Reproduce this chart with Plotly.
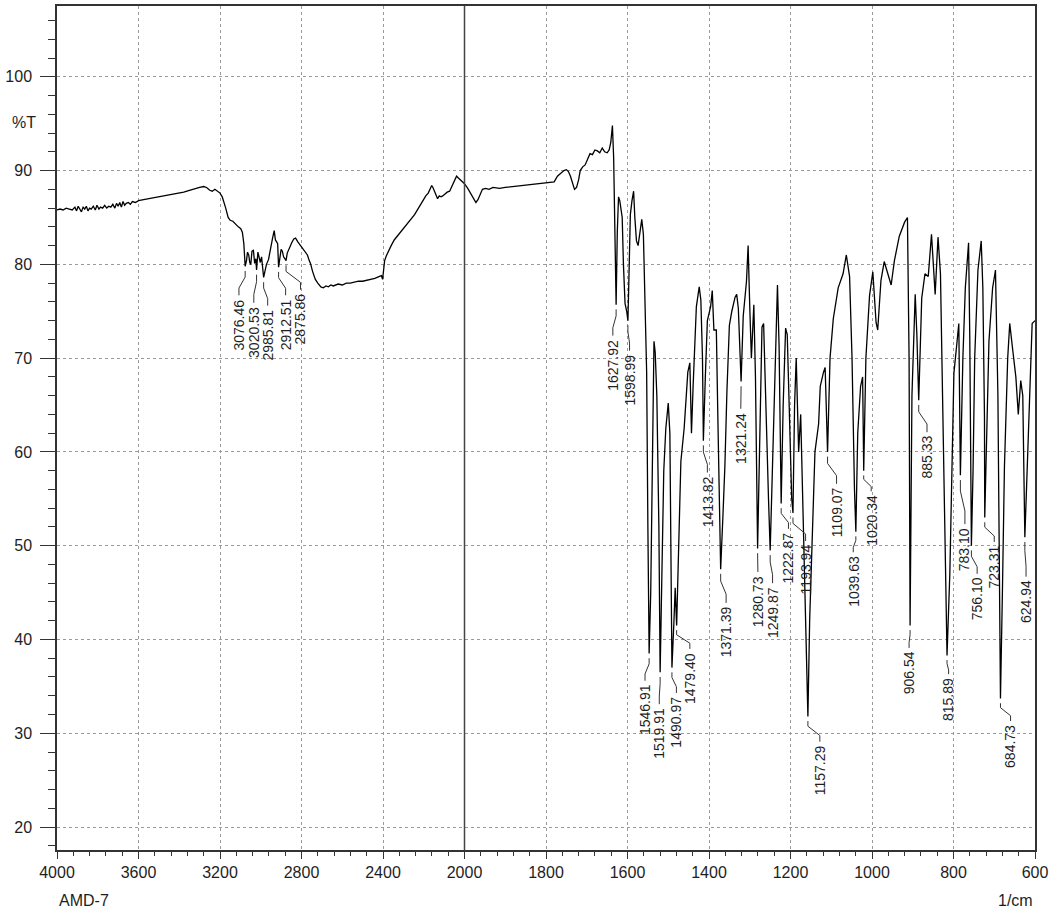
import numpy as np
import plotly.graph_objects as go

# IR spectrum of sample AMD-7: wavenumber (1/cm) and transmittance (%T)
wavenumber = [
    4000, 3985, 3970, 3955, 3940, 3925, 3912, 3904, 3896, 3888, 3880, 3872, 3864, 3856,
    3848, 3840, 3832, 3822, 3812, 3804, 3794, 3786, 3776, 3766, 3756, 3746, 3736, 3726,
    3716, 3708, 3700, 3692, 3684, 3676, 3668, 3660, 3650, 3640, 3630, 3615, 3600, 3575,
    3550, 3526, 3500, 3477, 3450, 3427, 3400, 3378, 3350, 3328, 3300, 3280, 3266, 3250,
    3238, 3225, 3213, 3200, 3189, 3180, 3172, 3160, 3150, 3137, 3125, 3110, 3098, 3090,
    3083, 3079, 3076.46, 3070, 3065, 3059, 3054, 3049, 3043, 3036, 3030, 3024, 3020.53,
    3014, 3008, 3002, 2996, 2991, 2985.81, 2980, 2972, 2962, 2952, 2942, 2934, 2928,
    2922, 2917, 2912.51, 2906, 2900, 2894, 2888, 2882, 2875.86, 2870, 2862, 2856, 2848,
    2838, 2829, 2818, 2805, 2792, 2780, 2771, 2762, 2756, 2745, 2732, 2720, 2705, 2693,
    2680, 2668, 2656, 2644, 2620, 2600, 2580, 2561, 2540, 2520, 2500, 2478, 2460, 2440,
    2420, 2408, 2402, 2398, 2392, 2384, 2376, 2360, 2345, 2330, 2317, 2300, 2280, 2260,
    2245, 2234, 2220, 2205, 2190, 2178, 2168, 2161, 2155, 2148, 2140, 2132, 2124, 2115,
    2107, 2095, 2085, 2073, 2062, 2055, 2046, 2039, 2030, 2020, 2010, 2000, 1992, 1985,
    1978, 1972, 1967, 1962, 1956, 1948, 1940, 1930, 1914, 1900, 1880, 1865, 1850, 1830,
    1810, 1790, 1780, 1772, 1764, 1756, 1750, 1745, 1740, 1735, 1730, 1725, 1720, 1716,
    1710, 1704, 1698, 1692, 1686, 1680, 1674, 1668, 1662, 1656, 1650, 1645, 1641, 1637,
    1634, 1631, 1627.92, 1625, 1622, 1619, 1616, 1613, 1610, 1606, 1602, 1598.99, 1596,
    1593, 1589, 1585, 1582, 1578, 1574, 1570, 1565, 1561, 1557, 1553, 1550, 1546.91,
    1543, 1539, 1535, 1532, 1528, 1523, 1519.91, 1516, 1511, 1506, 1500, 1496, 1493,
    1490.97, 1486, 1483, 1479.40, 1474, 1469, 1461, 1452, 1447, 1443, 1439, 1431, 1424,
    1420, 1416, 1413.82, 1409, 1404, 1396, 1392, 1388, 1382, 1378, 1374, 1371.39, 1366,
    1361, 1356, 1350, 1344, 1336, 1332, 1328, 1321.24, 1316, 1308, 1304, 1300, 1296,
    1290, 1286, 1280.73, 1274, 1270, 1266, 1260, 1254, 1249.87, 1244, 1238, 1232, 1228,
    1222.87, 1218, 1212, 1208, 1202, 1197, 1193.94, 1190, 1186, 1180, 1175, 1168, 1162,
    1157.29, 1153, 1148, 1144, 1140, 1131, 1127, 1119, 1115, 1109.07, 1103, 1095, 1083,
    1071, 1063, 1055, 1049, 1043, 1039.63, 1035, 1028, 1023, 1020.34, 1015, 1006, 998,
    990, 986, 978, 970, 962, 953, 945, 933, 920, 913, 909, 906.54, 902, 894, 890,
    885.33, 878, 870, 862, 854, 845, 838, 832, 825, 819, 815.89, 809, 802, 799, 793,
    787, 783.10, 777, 771, 763, 760, 756.10, 752, 748, 740, 732, 728, 724, 723.31, 717,
    713, 704, 697, 691, 687, 684.73, 680, 675, 667, 662, 655, 647, 641, 635, 630,
    624.94, 619, 613, 607, 600,
]
transmittance = [
    85.8, 85.9, 85.8, 86.0, 85.9, 85.8, 86.1, 85.7, 86.2, 85.8, 85.6, 86.1, 85.9, 86.2,
    85.7, 86.0, 85.9, 86.2, 85.8, 86.3, 85.9, 86.1, 86.0, 86.3, 86.0, 86.2, 86.1, 86.4,
    86.0, 86.5, 86.2, 86.6, 86.1, 86.7, 86.3, 86.5, 86.6, 86.4, 86.7, 86.6, 86.8, 86.9,
    87.0, 87.1, 87.2, 87.3, 87.4, 87.5, 87.6, 87.7, 87.9, 88.0, 88.2, 88.3, 88.2, 87.9,
    87.8, 88.0, 87.8, 87.6, 87.2, 86.6, 86.0, 85.0, 84.7, 84.6, 84.3, 84.0, 83.8, 83.4,
    82.2, 81.0, 79.8, 80.4, 81.3, 81.0, 80.2, 80.0, 81.4, 81.5, 80.1, 80.6, 79.4,
    81.3, 80.6, 80.2, 80.8, 79.7, 78.6, 79.2, 80.0, 80.5, 81.8, 82.8, 83.6, 82.6,
    82.4, 82.2, 79.7, 80.8, 81.6, 81.4, 80.8, 80.6, 80.4, 81.2, 81.6, 82.0, 82.3,
    82.7, 82.8, 82.4, 82.0, 81.6, 81.3, 81.0, 80.4, 80.1, 79.2, 78.4, 78.0, 77.6, 77.5,
    77.7, 77.6, 77.8, 77.7, 77.9, 77.8, 78.0, 78.0, 78.1, 78.2, 78.2, 78.3, 78.4, 78.5,
    78.7, 78.8, 78.4, 79.6, 80.4, 80.9, 81.3, 82.0, 82.6, 83.0, 83.4, 83.8, 84.3, 84.9,
    85.3, 85.7, 86.2, 86.8, 87.3, 87.6, 88.0, 88.4, 88.2, 87.8, 87.3, 87.0, 87.3, 87.2,
    87.3, 87.5, 87.7, 87.8, 88.3, 88.8, 89.2, 89.4, 89.2, 89.0, 88.9, 88.6, 88.1, 87.6,
    87.0, 86.6, 86.9, 87.5, 88.0, 88.1, 88.0, 88.2, 88.1, 88.2, 88.3, 88.3, 88.4, 88.5,
    88.6, 88.7, 88.8, 89.4, 89.7, 90.0, 90.1, 89.9, 89.4, 88.7, 88.0, 88.2, 89.0, 90.0,
    90.4, 90.6, 91.2, 91.8, 91.7, 92.2, 92.1, 91.9, 92.4, 92.0, 91.9, 92.2, 93.0, 94.8,
    91.4, 82.0, 75.7, 83.5, 87.2, 86.8, 85.8, 85.0, 80.0, 75.8, 75.0, 74.0, 79.5,
    85.3, 86.8, 87.8, 85.0, 82.5, 82.0, 83.2, 84.8, 83.2, 76.5, 68.5, 52.0, 38.5,
    45.0, 60.0, 71.8, 70.6, 66.0, 52.0, 36.5, 46.0, 58.0, 62.5, 65.2, 62.0, 48.0,
    37.0, 42.0, 45.5, 41.5, 51.0, 59.0, 62.5, 68.5, 69.5, 62.0, 67.0, 75.5, 77.6,
    76.2, 70.0, 61.2, 68.0, 74.0, 75.5, 77.2, 73.0, 73.0, 63.0, 55.0, 47.5, 53.0,
    58.5, 66.5, 73.5, 75.0, 76.5, 76.8, 75.3, 67.5, 74.5, 78.2, 82.0, 75.5, 70.0,
    75.7, 68.0, 49.7, 63.0, 73.3, 73.7, 63.0, 55.0, 49.5, 59.0, 69.0, 77.8, 71.3,
    54.5, 65.0, 73.2, 72.5, 62.3, 55.0, 53.5, 65.0, 70.0, 60.0, 64.0, 52.0, 40.0,
    31.8, 42.0, 50.0, 55.0, 60.0, 63.0, 67.0, 68.5, 69.0, 60.0, 70.0, 74.2, 77.5,
    79.0, 81.0, 78.7, 70.0, 56.0, 51.5, 62.0, 67.0, 68.0, 58.0, 70.0, 76.7, 79.2,
    73.8, 73.0, 78.3, 80.3, 79.2, 77.8, 80.4, 83.0, 84.5, 85.0, 70.0, 41.5, 66.0, 76.8, 72.6,
    65.5, 76.4, 79.0, 78.7, 83.2, 76.8, 82.9, 79.0, 62.3, 45.0, 38.3, 47.0, 62.3, 68.4, 71.0,
    73.7, 57.5, 70.0, 77.5, 82.3, 72.0, 50.0, 58.0, 70.0, 79.4, 82.5, 77.5, 63.8, 53.0, 64.0,
    71.8, 77.5, 79.4, 66.0, 50.0, 33.7, 45.0, 58.4, 70.0, 73.7, 71.0, 68.0, 64.0, 67.6, 66.0,
    50.9, 58.4, 66.0, 73.7, 74.0,
]

# Picked peaks (1/cm)
peak_wavenumbers = [
    3076.46, 3020.53, 2985.81, 2912.51, 2875.86, 1627.92, 1598.99, 1546.91, 1519.91,
    1490.97, 1479.40, 1413.82, 1371.39, 1321.24, 1280.73, 1249.87, 1222.87, 1193.94,
    1157.29, 1109.07, 1039.63, 1020.34, 906.54, 885.33, 815.89, 783.10, 756.10, 723.31,
    684.73, 624.94,
]

# Where each peak label sits: text centre (1/cm) and text top (%T)
label_x = [
    3107, 3034, 2966, 2878, 2805, 1636, 1595, 1557, 1522,
    1480, 1447, 1404, 1358, 1322, 1280, 1244, 1205, 1163,
    1128, 1087, 1046, 1002, 909, 865, 812, 772, 742, 700,
    660, 622,
]
label_top = [
    76.4, 75.6, 75.3, 76.4, 77.0, 72.1, 70.5, 35.3, 32.8,
    34.0, 38.7, 57.5, 43.6, 64.3, 46.9, 45.7, 51.5, 50.2,
    28.8, 56.3, 49.0, 55.5, 38.8, 61.8, 36.0, 52.0, 46.7, 50.1,
    31.0, 46.4,
]

x_tick_labels = [4000, 3600, 3200, 2800, 2400, 2000, 1800, 1600, 1400, 1200, 1000, 800, 600]
y_tick_labels = [20, 30, 40, 50, 60, 70, 80, 90, 100]


def to_axis(w):
    """Abscissa scale: the 4000-2000 1/cm part is drawn at half the scale of 2000-600."""
    w = np.asarray(w, dtype=float)
    return np.where(w > 2000, 2000 + (w - 2000) / 2.0, w)


FONT = "Liberation Sans, Arial, sans-serif"
INK = "#1e1e1e"

fig = go.Figure()

fig.add_trace(go.Scatter(
    x=to_axis(wavenumber), y=transmittance, mode="lines",
    line=dict(color="#000000", width=1.3), hoverinfo="skip", showlegend=False,
))

# leader lines from each picked peak to its label
lookup = dict(zip(wavenumber, transmittance))
lx_pts, ly_pts = [], []
for pk, lx, lt in zip(peak_wavenumbers, label_x, label_top):
    tm = lookup[pk]
    start = tm - 0.5
    end = lt + 0.3
    gap = start - end
    k1 = start - 0.25 * gap
    k2 = end + 0.3 * gap
    px, qx = float(to_axis(pk)), float(to_axis(lx))
    lx_pts += [px, px, qx, qx, None]
    ly_pts += [start, k1, k2, end, None]
fig.add_trace(go.Scatter(
    x=lx_pts, y=ly_pts, mode="lines", line=dict(color="#333333", width=1),
    hoverinfo="skip", showlegend=False,
))

annotations = []
for pk, lx, lt in zip(peak_wavenumbers, label_x, label_top):
    annotations.append(dict(
        x=float(to_axis(lx)), y=lt, xref="x", yref="y", text=f"{pk:.2f}",
        textangle=-90, xanchor="center", yanchor="top", showarrow=False,
        borderpad=0, font=dict(family=FONT, size=14, color=INK),
    ))

annotations += [
    dict(x=-0.048, y=95.1, xref="paper", yref="y", text="%T", showarrow=False,
         xanchor="left", yanchor="middle", font=dict(family=FONT, size=16, color=INK)),
    dict(x=0.0, y=-0.06, xref="paper", yref="paper", text="AMD-7", showarrow=False,
         xanchor="left", yanchor="middle", font=dict(family=FONT, size=16, color=INK)),
    dict(x=1.0, y=-0.06, xref="paper", yref="paper", text="1/cm", showarrow=False,
         xanchor="right", yanchor="middle", font=dict(family=FONT, size=16, color=INK)),
]

# solid divider where the abscissa scale changes
fig.add_shape(type="line", xref="x", yref="paper", x0=2000, x1=2000, y0=0, y1=1,
              line=dict(color="#444444", width=1.5))

fig.update_layout(
    width=1060, height=914,
    margin=dict(l=57, r=25, t=4, b=64),
    paper_bgcolor="white", plot_bgcolor="white",
    annotations=annotations,
    xaxis=dict(
        range=[3000, 600], tickmode="array",
        tickvals=to_axis(x_tick_labels).tolist(),
        ticktext=[str(v) for v in x_tick_labels],
        ticks="outside", ticklen=7, tickwidth=1.2, tickcolor="#333333",
        showline=True, linecolor="#333333", linewidth=1.5, mirror=True,
        showgrid=True, gridcolor="#9a9a9a", griddash="3px,3px", gridwidth=1,
        zeroline=False,
        tickfont=dict(family=FONT, size=16, color=INK),
        minor=dict(tickmode="linear", tick0=600, dtick=40, ticks="outside",
                   ticklen=4, tickwidth=1, tickcolor="#333333", showgrid=False),
    ),
    yaxis=dict(
        range=[17.55, 107.55], tickmode="array", tickvals=y_tick_labels,
        ticktext=[str(v) for v in y_tick_labels],
        ticks="outside", ticklen=15, tickwidth=1.2, tickcolor="#333333",
        ticklabelstandoff=5,
        showline=True, linecolor="#333333", linewidth=1.5, mirror=True,
        showgrid=True, gridcolor="#9a9a9a", griddash="3px,3px", gridwidth=1,
        zeroline=False,
        tickfont=dict(family=FONT, size=16, color=INK),
        minor=dict(tickmode="linear", tick0=0, dtick=2, ticks="outside",
                   ticklen=7, tickwidth=1, tickcolor="#333333", showgrid=False),
    ),
)

fig.write_html("out.html")
